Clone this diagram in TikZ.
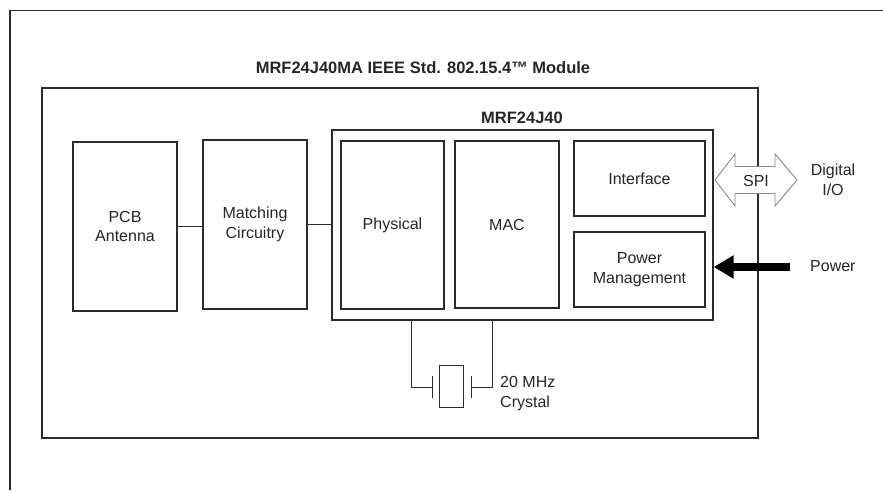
\documentclass[tikz,border=0pt]{standalone}
\usepackage{fontspec}
\setmainfont{Liberation Sans}
\usetikzlibrary{arrows.meta}
\definecolor{ln}{HTML}{2B2B2B}
\definecolor{tx}{HTML}{262626}
\definecolor{spigray}{HTML}{8A8A8A}
\begin{document}
\begin{tikzpicture}[x=1pt,y=-1pt,
  box/.style={draw=ln, line width=1.2pt, align=center, inner sep=0pt, text=tx, font=\fontsize{16}{19.5}\selectfont},
  lbl/.style={text=tx, font=\fontsize{16}{19.5}\selectfont, align=center, inner sep=0pt},
  ttl/.style={text=tx, font=\fontsize{16.5}{19.5}\selectfont\bfseries, inner sep=0pt},
  wire/.style={draw=ln, line width=1pt}]
\useasboundingbox (0,0) rectangle (883,490);
\fill[white] (0,0) rectangle (883,490);
% outer frame
\draw[ln, line width=1.2pt] (10,490) -- (10,10.5) -- (883,10.5);
% module
\node[box, minimum width=716pt, minimum height=350pt] (module) at (400,263) {};
\node[ttl, anchor=base] (title) at (423,73.3) {MRF24J40MA IEEE Std. 802.15.4™ Module};
% MRF24J40
\node[box, minimum width=381pt, minimum height=190pt] (mrf) at (522.5,225) {};
\node[ttl, anchor=base] (mrfl) at (522,123.3) {MRF24J40};
\node[box, minimum width=103pt, minimum height=168pt] (phys) at (392.5,225) {Physical};
\node[box, minimum width=104pt, minimum height=167pt] (mac) at (507,224.5) {MAC};
\node[box, minimum width=131pt, minimum height=75pt] (iface) at (639.5,178.5) {Interface};
\node[box, minimum width=131pt, minimum height=75pt] (pm) at (639.5,269.5) {Power\\Management};
% RF front end
\node[box, minimum width=104pt, minimum height=169pt] (ant) at (125,226.5) {PCB\\Antenna};
\node[box, minimum width=104pt, minimum height=169pt] (match) at (255,224.5) {Matching\\Circuitry};
\draw[wire] (ant.east) -- (ant.east -| match.west);
\draw[wire] (match.east) -- (match.east -| mrf.west);
% crystal
\node[draw=ln, line width=1pt, minimum width=24pt, minimum height=42pt, inner sep=0pt] (xtal) at (451.5,386) {};
\coordinate (pl) at (432,387);
\coordinate (pr) at (471,387);
\coordinate (wl) at (411,0);
\coordinate (wr) at (492,0);
\draw[wire] ([yshift=11pt]pl) -- ([yshift=-11pt]pl);
\draw[wire] ([yshift=11pt]pr) -- ([yshift=-11pt]pr);
\draw[wire] (mrf.south -| wl) |- (pl);
\draw[wire] (mrf.south -| wr) |- (pr);
\node[lbl, align=left, anchor=west] (xtl) at (500,393.5) {20 MHz\\Crystal};
% SPI
\draw[draw=spigray, fill=white, line width=0.9pt, line join=miter]
  (715,180) -- (735,154) -- (735,166.5) -- (775,166.5) -- (775,154) -- (797,180)
  -- (775,206) -- (775,193.5) -- (735,193.5) -- (735,206) -- cycle;
\node[lbl] (spi) at (756,181) {SPI};
\node[lbl] (dio) at (833,180) {Digital\\I/O};
% power
\node[lbl, anchor=west] (pwr) at (810,266) {Power};
\coordinate (pa) at (790,267);
\draw[line width=8pt, draw=black, -{Triangle[length=20pt,width=22pt]}] (pa) -- (mrf.east |- pa);
\end{tikzpicture}
\end{document}
